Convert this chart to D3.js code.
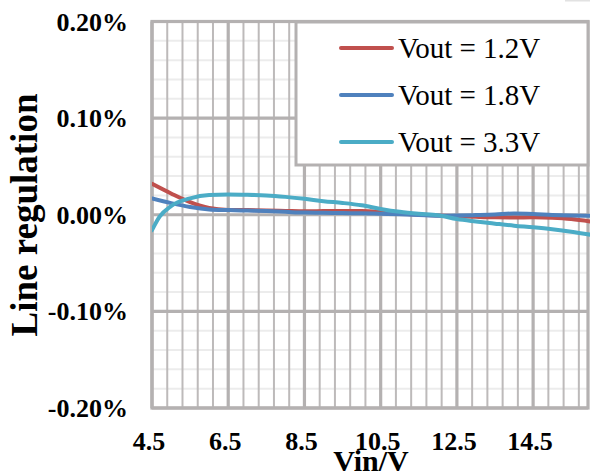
<!DOCTYPE html>
<html>
<head>
<meta charset="utf-8">
<script src="https://cdn.jsdelivr.net/npm/d3@7/dist/d3.min.js"></script>
<style>
  html, body { margin: 0; padding: 0; background: #fff; }
  svg { display: block; }
</style>
</head>
<body>
<svg id="chart" width="590" height="476"></svg>
<script>
// ---- data ----
const vin = [4.5, 5.0, 5.5, 6.0, 6.5, 7.0, 7.5, 8.0, 8.5, 9.0, 9.5, 10.0, 10.5, 11.0, 11.5, 12.0, 12.5, 13.0, 13.5, 14.0, 14.5, 15.0, 15.5, 16.0];
const vout12 = [0.032, 0.022, 0.013, 0.007, 0.005, 0.0048, 0.0045, 0.004, 0.0035, 0.0038, 0.004, 0.004, 0.003, 0.0012, 0.0003, -0.0008, -0.0015, -0.0022, -0.0027, -0.0028, -0.0027, -0.0032, -0.0045, -0.007];
const vout18 = [0.0168, 0.012, 0.008, 0.0055, 0.0048, 0.0043, 0.0038, 0.003, 0.0022, 0.002, 0.0017, 0.0015, 0.001, 0.0005, -0.0002, -0.001, -0.0008, -0.0003, 0.0003, 0.0013, 0.0008, -0.0002, -0.0008, -0.001];
const vin33 = [4.5, 4.7, 5.0, 5.5, 6.0, 6.5, 7.0, 7.5, 8.0, 8.5, 9.0, 9.5, 10.0, 10.5, 11.0, 11.5, 12.0, 12.5, 13.0, 13.5, 14.0, 14.5, 15.0, 15.5, 16.0];
const vout33 = [-0.016, -0.002, 0.009, 0.017, 0.0205, 0.021, 0.0207, 0.02, 0.0185, 0.0165, 0.014, 0.0122, 0.0098, 0.006, 0.003, 0.001, -0.0005, -0.0045, -0.007, -0.0092, -0.0113, -0.013, -0.015, -0.0175, -0.0206];
const seriesNames = ["Vout = 1.2V", "Vout = 1.8V", "Vout = 3.3V"];
const seriesColors = ["#c0504d", "#4f81bd", "#4bacc6"];
const xTickLabels = ["4.5", "6.5", "8.5", "10.5", "12.5", "14.5"];
const yTickLabels = ["0.20%", "0.10%", "0.00%", "-0.10%", "-0.20%"];
const yTickValues = [0.2, 0.1, 0.0, -0.1, -0.2];
const xMinorStep = 0.4;
const yMinorStep = 0.02;

const series = [
  { name: seriesNames[0], color: seriesColors[0], pts: vin.map((v, i) => [v, vout12[i]]) },
  { name: seriesNames[1], color: seriesColors[1], pts: vin.map((v, i) => [v, vout18[i]]) },
  { name: seriesNames[2], color: seriesColors[2], pts: vin33.map((v, i) => [v, vout33[i]]) }
];

const FONT = "'Liberation Serif', 'DejaVu Serif', serif";

// ---- layout ----
const svg = d3.select("#chart");
const pLeft = 152, pRight = 588, pTop = 21.5, pBottom = 408;
const x = d3.scaleLinear().domain([4.5, 15.94]).range([pLeft, pRight]);
const y = d3.scaleLinear().domain([-0.2, 0.2]).range([pBottom, pTop]);

const gridMajor = "#b4b1b1";
const gridMinorV = "#bdbaba";
const gridMinorH = "#ececec";

// small mark at top-right corner
svg.append("rect").attr("x", 565).attr("y", 0).attr("width", 25).attr("height", 1.5).attr("fill", "#e2e2e2");

// horizontal minor
const g = svg.append("g");
const yMinor = d3.range(0, 21).map(i => -0.2 + i * yMinorStep).filter((v, i) => i % 5 !== 0);
g.selectAll("line.hmin").data(yMinor).join("line")
  .attr("x1", pLeft).attr("x2", pRight)
  .attr("y1", d => y(d)).attr("y2", d => y(d))
  .attr("stroke", gridMinorH).attr("stroke-width", 2);

// vertical minor + major
const xAll = d3.range(0, 29).map(i => 4.5 + i * xMinorStep).filter(v => v < 15.94);
const xMajorVals = xTickLabels.map(Number);
const isMajor = d => xMajorVals.some(m => Math.abs(m - d) < 1e-6);
g.selectAll("line.v").data(xAll).join("line")
  .attr("x1", d => x(d)).attr("x2", d => x(d))
  .attr("y1", pTop).attr("y2", pBottom)
  .attr("stroke", d => isMajor(d) ? gridMajor : gridMinorV)
  .attr("stroke-width", d => isMajor(d) ? 3.2 : 2);

// horizontal major
g.selectAll("line.hmaj").data(yTickValues).join("line")
  .attr("x1", pLeft).attr("x2", pRight)
  .attr("y1", d => y(d)).attr("y2", d => y(d))
  .attr("stroke", gridMajor).attr("stroke-width", 3.2);

// plot border
svg.append("rect").attr("x", pLeft).attr("y", pTop).attr("width", pRight - pLeft).attr("height", pBottom - pTop)
  .attr("fill", "none").attr("stroke", gridMajor).attr("stroke-width", 3.2);

// data lines
const line = d3.line().x(d => x(d[0])).y(d => y(d[1])).curve(d3.curveMonotoneX);
svg.append("defs").append("clipPath").attr("id", "clip")
  .append("rect").attr("x", pLeft).attr("y", pTop).attr("width", 590 - pLeft).attr("height", pBottom - pTop);
svg.append("g").attr("clip-path", "url(#clip)")
  .selectAll("path").data(series).join("path")
  .attr("d", d => line(d.pts))
  .attr("fill", "none").attr("stroke", d => d.color).attr("stroke-width", 4)
  .attr("stroke-linejoin", "round").attr("stroke-linecap", "round");

// y tick labels
svg.append("g").selectAll("text").data(yTickValues).join("text")
  .attr("x", 128).attr("y", d => y(d)).attr("dy", "0.35em")
  .attr("text-anchor", "end").attr("font-family", FONT).attr("font-size", 26).attr("font-weight", "bold").attr("fill", "#000")
  .text((d, i) => yTickLabels[i]);

// x tick labels
svg.append("g").selectAll("text").data(xTickLabels).join("text")
  .attr("x", d => x(+d) - 3).attr("y", 450)
  .attr("text-anchor", "middle").attr("font-family", FONT).attr("font-size", 26).attr("font-weight", "bold").attr("fill", "#000")
  .text(d => d);

// axis titles
svg.append("text").attr("x", 371).attr("y", 471).attr("text-anchor", "middle").attr("font-family", FONT)
  .attr("font-size", 30).attr("font-weight", "bold").text("Vin/V");
svg.append("text").attr("transform", "translate(37,215) rotate(-90)").attr("text-anchor", "middle").attr("font-family", FONT)
  .attr("font-size", 37).attr("font-weight", "bold").text("Line regulation");

// legend
const lg = svg.append("g");
lg.append("rect").attr("x", 296).attr("y", 22).attr("width", 292).attr("height", 143)
  .attr("fill", "#fff").attr("stroke", gridMajor).attr("stroke-width", 3);
const legY = [48, 95, 142];
series.forEach((s, i) => {
  lg.append("line").attr("x1", 341).attr("x2", 392).attr("y1", legY[i]).attr("y2", legY[i])
    .attr("stroke", s.color).attr("stroke-width", 4).attr("stroke-linecap", "round");
  lg.append("text").attr("x", 398).attr("y", legY[i] + 10).attr("font-family", FONT).attr("font-size", 29).attr("fill", "#000").text(s.name);
});
</script>
</body>
</html>
